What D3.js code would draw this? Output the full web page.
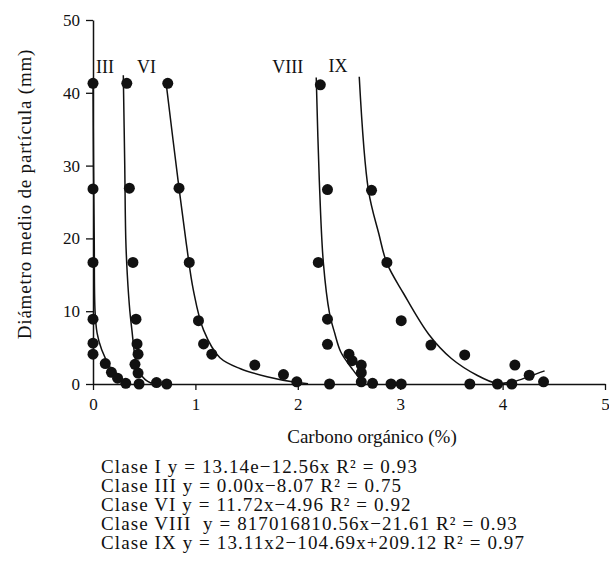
<!DOCTYPE html>
<html>
<head>
	<meta charset='utf-8'>
	<script src="https://cdnjs.cloudflare.com/ajax/libs/d3/7.8.5/d3.min.js" charset="utf-8"></script>
	<style>
	body {
		margin:0;
		background:#fff;
	}
	text {
		font-family:'Liberation Serif', serif;
		fill:#111;
	}
	</style>
</head>
<body>
	<script>

	// points (x = carbono %, y = diametro mm)
	var classI_x = [0, 0, 0, 0, 0, 0, 0.12, 0.18, 0.24, 0.32],
		classI_y = [41.3, 26.8, 16.7, 8.9, 5.6, 4.1, 2.8, 1.6, 0.8, 0.1];
	var classIII_x = [0.33, 0.355, 0.39, 0.42, 0.43, 0.44, 0.41, 0.44, 0.45, 0.62, 0.72],
		classIII_y = [41.3, 26.9, 16.7, 8.9, 5.5, 4.1, 2.7, 1.5, 0, 0.2, 0];
	var classVI_x = [0.73, 0.84, 0.94, 1.03, 1.08, 1.16, 1.58, 1.86, 1.99],
		classVI_y = [41.3, 26.9, 16.7, 8.7, 5.5, 4.1, 2.6, 1.3, 0.3];
	var classVIII_x = [2.22, 2.29, 2.2, 2.29, 2.29, 2.5, 2.53, 2.62, 2.62, 2.62, 2.31, 2.73, 2.91, 3.01],
		classVIII_y = [41.1, 26.7, 16.7, 8.9, 5.45, 4.1, 3.2, 2.6, 1.55, 0.3, 0, 0.1, 0, 0];
	var classIX_x = [2.72, 2.87, 3.01, 3.30, 3.63, 3.68, 3.95, 4.09, 4.12, 4.26, 4.40],
		classIX_y = [26.6, 16.7, 8.7, 5.35, 4.0, 0, 0, 0, 2.6, 1.2, 0.3];

	// fitted curves
	var fitI_x = [0, 0.005, 0.012, 0.02, 0.04, 0.085, 0.17, 0.25, 0.32],
		fitI_y = [42, 30, 20, 10, 7, 4.7, 2.2, 0.55, 0.1];
	var fitIII_x = [0.296, 0.31, 0.32, 0.335, 0.36, 0.38, 0.41, 0.44, 0.51, 0.57],
		fitIII_y = [42.4, 30, 20, 15, 10, 7.4, 3.75, 1.9, 0.6, 0.1];
	var fitVI_x = [0.71, 0.84, 0.915, 0.98, 1.08, 1.24, 1.44, 1.70, 1.99, 2.1],
		fitVI_y = [41.8, 26.9, 18.9, 12.9, 7.4, 3.6, 2.1, 1.0, 0.2, 0.05];
	var fitVIII_x = [2.18, 2.21, 2.25, 2.31, 2.36, 2.42, 2.53, 2.62, 2.66],
		fitVIII_y = [42.1, 28, 16.6, 9.7, 7, 4.4, 2.1, 0.5, 0.1];
	var fitIX_x = [2.60, 2.69, 2.79, 2.87, 3.03, 3.28, 3.50, 3.75, 3.94, 4.10, 4.27, 4.41],
		fitIX_y = [42.2, 26.6, 20.7, 16.6, 12.5, 6.8, 3.5, 1.2, 0.1, 0.3, 1.1, 1.8];

	var classNames = ['III', 'VI', 'VIII', 'IX'];
	var xTicks = [0, 1, 2, 3, 4, 5],
		yTicks = [0, 10, 20, 30, 40, 50];
	var xTitle = 'Carbono orgánico (%)',
		yTitle = 'Diámetro medio de partícula (mm)';
	var legendLines = [
		'Clase I y = 13.14e\u221212.56x R\u00b2 = 0.93',
		'Clase III y = 0.00x\u22128.07 R\u00b2 = 0.75',
		'Clase VI y = 11.72x\u22124.96 R\u00b2 = 0.92',
		'Clase VIII \u00a0y = 817016810.56x\u221221.61 R\u00b2 = 0.93',
		'Clase IX y = 13.11x2\u2212104.69x+209.12 R\u00b2 = 0.97'
	];

	var canvasWidth = 609,
		canvasHeight = 576;
	var margin = {'top': 20, 'left': 93};
	var chartWidth = 512,
		chartHeight = 364;

	// where the class labels sit, in data units
	var labelAt = [[0.03, 42.7], [0.43, 42.7], [1.75, 42.7], [2.3, 42.8]];

	var canvas = d3.select('body').append('svg').attr('width', canvasWidth).attr('height', canvasHeight);
	var chart = canvas.append('g').attr('transform', 'translate(' + margin.left + ',' + margin.top + ')');

	var x = d3.scaleLinear().domain([0, 5]).range([0, chartWidth]);
	var y = d3.scaleLinear().domain([0, 50]).range([chartHeight, 0]);

	var xAxis = chart.append('g').attr('transform', 'translate(0,' + chartHeight + ')')
		.call(d3.axisBottom(x).tickValues(xTicks).tickFormat(d3.format('d')).tickSize(6).tickSizeOuter(0).tickPadding(8));
	var yAxis = chart.append('g')
		.call(d3.axisLeft(y).tickValues(yTicks).tickFormat(d3.format('d')).tickSize(7).tickSizeOuter(0).tickPadding(6));

	[xAxis, yAxis].forEach(function (a) {
		a.select('.domain').attr('stroke', '#111').attr('stroke-width', 1.5);
		a.selectAll('.tick line').attr('stroke', '#111').attr('stroke-width', 1.3);
		a.selectAll('.tick text').attr('font-family', 'DejaVu Serif').attr('font-size', 17).attr('fill', '#111');
	});

	var fits = [[fitI_x, fitI_y], [fitIII_x, fitIII_y], [fitVI_x, fitVI_y], [fitVIII_x, fitVIII_y], [fitIX_x, fitIX_y]];
	var line = d3.line().x(function (d) { return x(d[0]); }).y(function (d) { return y(d[1]); }).curve(d3.curveCatmullRom.alpha(0.5));

	chart.selectAll('path.fit').data(fits).enter().append('path')
		.attr('class', 'fit')
		.attr('fill', 'none')
		.attr('stroke', '#111')
		.attr('stroke-width', 1.5)
		.attr('d', function (f) { return line(d3.zip(f[0], f[1])); });

	var series = [[classI_x, classI_y], [classIII_x, classIII_y], [classVI_x, classVI_y], [classVIII_x, classVIII_y], [classIX_x, classIX_y]];
	var points = [];
	series.forEach(function (s) { points = points.concat(d3.zip(s[0], s[1])); });

	chart.selectAll('circle').data(points).enter().append('circle')
		.attr('r', 5.5)
		.attr('fill', '#111')
		.attr('cx', function (d) { return x(d[0]); })
		.attr('cy', function (d) { return y(d[1]); });

	chart.selectAll('text.cls').data(classNames).enter().append('text')
		.attr('class', 'cls')
		.attr('font-size', 18)
		.attr('x', function (d, i) { return x(labelAt[i][0]); })
		.attr('y', function (d, i) { return y(labelAt[i][1]); })
		.text(function (d) { return d; });

	canvas.append('text')
		.attr('text-anchor', 'middle')
		.attr('font-size', 19)
		.attr('x', 372).attr('y', 443)
		.text(xTitle);

	canvas.append('text')
		.attr('text-anchor', 'middle')
		.attr('font-size', 19)
		.attr('letter-spacing', 0.8)
		.attr('transform', 'translate(31,194) rotate(-90)')
		.text(yTitle);

	canvas.append('g').attr('transform', 'translate(101,473)')
		.selectAll('text').data(legendLines).enter().append('text')
		.attr('y', function (d, i) { return i * 19; })
		.attr('font-size', 19)
		.attr('letter-spacing', 1.1)
		.text(function (d) { return d; });

	</script>
</body>
</html>
